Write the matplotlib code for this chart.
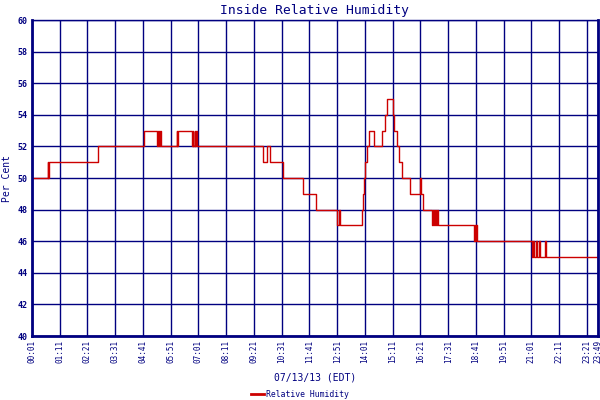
import numpy as np
import matplotlib
matplotlib.use("Agg")
import matplotlib.pyplot as plt

NAVY = "#000080"
RED = "#cc0000"

# minutes after 00:01 where the reading changes, and the reading from there on
change_min = [0, 40, 41, 43, 166, 283, 315, 317, 320, 322, 325, 365, 366, 368,
              403, 405, 407, 410, 412, 415, 417, 583, 593, 600, 633, 684, 716,
              770, 774, 777, 833, 835, 838, 840, 845, 850, 863, 883, 891, 896,
              911, 913, 921, 926, 933, 954, 979, 982, 986, 1009, 1012, 1014,
              1017, 1019, 1022, 1024, 1115, 1117, 1119, 1121, 1123, 1261, 1264,
              1266, 1272, 1274, 1280, 1282, 1294, 1297, 1428]
humidity = [50, 51, 50, 51, 52, 53, 52, 53, 52, 53, 52, 53, 52, 53,
            52, 53, 52, 53, 52, 53, 52, 51, 52, 51, 50, 49, 48,
            47, 48, 47, 48, 49, 50, 51, 52, 53, 52, 53, 54, 55,
            54, 53, 52, 51, 50, 49, 50, 49, 48, 47, 48, 47,
            48, 47, 48, 47, 46, 47, 46, 47, 46, 45, 46,
            45, 46, 45, 46, 45, 46, 45, 45]

tick_min = list(range(0, 1401, 70)) + [1428]
tick_lbl = ["00:01", "01:11", "02:21", "03:31", "04:41", "05:51", "07:01",
            "08:11", "09:21", "10:31", "11:41", "12:51", "14:01", "15:11",
            "16:21", "17:31", "18:41", "19:51", "21:01", "22:11", "23:21",
            "23:49"]
y_ticks = list(range(40, 61, 2))

plt.rcParams['font.family'] = ['DejaVu Sans Mono']

fig = plt.figure(figsize=(6, 4), dpi=100)
ax = fig.add_axes([32/600, 64/400, 566/600, 316/400])

ax.step(change_min, humidity, where="post", color=RED, lw=1.0, label="Relative Humidity")

ax.set_xlim(0, 1428)
ax.set_ylim(40, 60)
ax.set_xticks(tick_min)
ax.set_xticklabels(tick_lbl, rotation=90, fontsize=5.5, color=NAVY)
ax.set_yticks(y_ticks)
ax.set_yticklabels([str(v) for v in y_ticks], fontsize=6, color=NAVY, fontweight="bold")
ax.tick_params(length=0, pad=3)
ax.grid(True, color=NAVY, lw=1.0)
ax.set_axisbelow(True)
for side, w in [("left", 2.0), ("right", 2.0), ("bottom", 2.0), ("top", 1.0)]:
    ax.spines[side].set_color(NAVY)
    ax.spines[side].set_linewidth(w)

ax.set_title("Inside Relative Humidity", fontsize=9.4, color=NAVY, pad=4)
ax.set_ylabel("Per Cent", fontsize=7, color=NAVY, labelpad=4)
fig.text(0.525, 0.055, "07/13/13 (EDT)", fontsize=7, color=NAVY, ha="center", va="center")

fig.legend(loc="center", bbox_to_anchor=(0.5, 0.013), frameon=False, fontsize=5.9,
           handlelength=1.6, handletextpad=0.3, labelcolor=NAVY)
for line in fig.legends[0].get_lines():
    line.set_linewidth(2.0)

fig.savefig("out.png", dpi=100)
